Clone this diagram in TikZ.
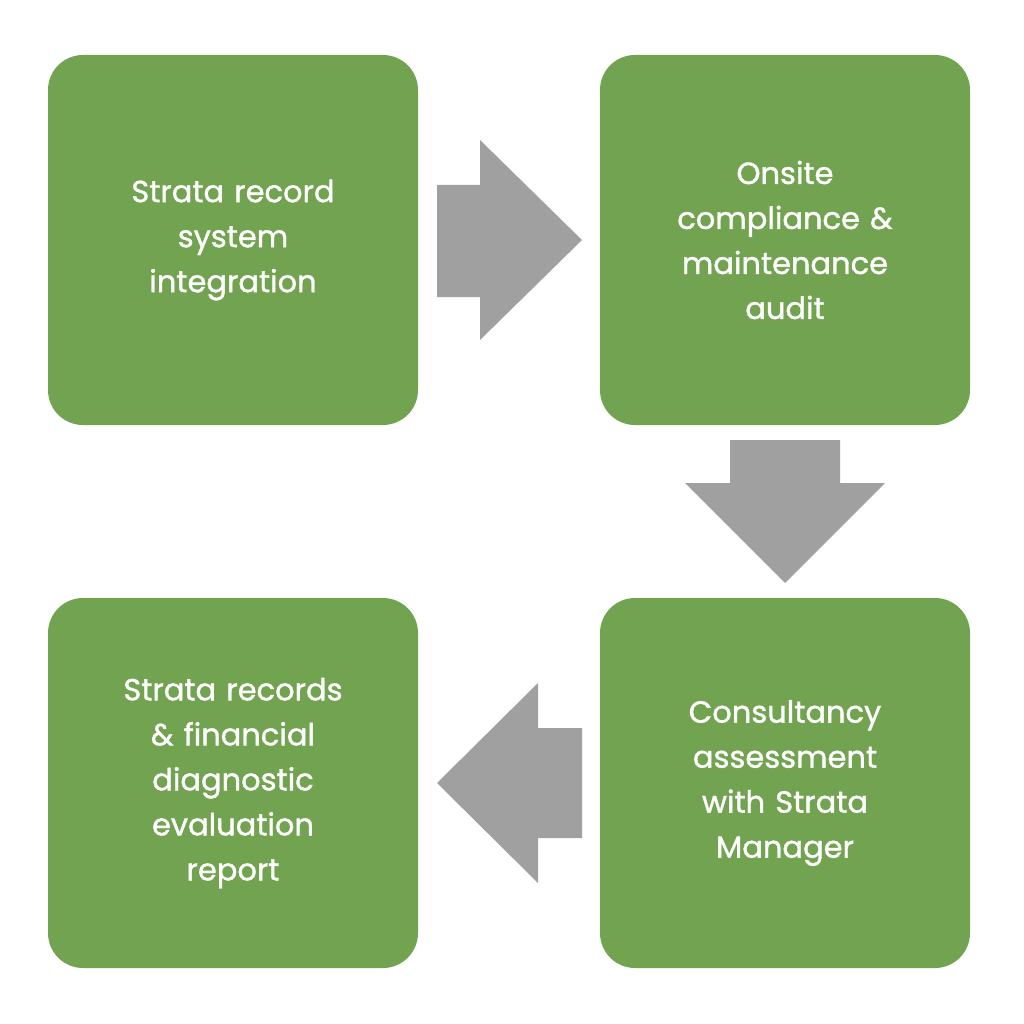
\documentclass[tikz,border=0pt]{standalone}
\usepackage{fontspec}
\setmainfont{Poppins}[FakeBold=1.2]
\definecolor{boxgreen}{HTML}{72A350}
\definecolor{arrowgray}{HTML}{A0A0A0}
\begin{document}
\begin{tikzpicture}[x=1pt,y=-1pt,
  box/.style={fill=boxgreen,rounded corners=35pt,minimum width=370pt,minimum height=370pt,text=white,align=center,font=\fontsize{30.5}{45}\selectfont,text width=330pt},
  garrow/.style={fill=arrowgray}]
\useasboundingbox (0,0) rectangle (1024,1024);
\node[box] (a) at (233,240) {Strata record\\system\\integration};
\node[box] (b) at (785,240) {Onsite\\compliance \&\\maintenance\\audit};
\node[box] (c) at (785,783) {Consultancy\\assessment\\with Strata\\Manager};
\node[box] (d) at (233,783) {Strata records\\\& financial\\diagnostic\\evaluation\\report};
\fill[garrow] (437,185) -- (480,185) -- (480,140) -- (582,240) -- (480,340) -- (480,297) -- (437,297) -- cycle;
\fill[garrow] (730,440) -- (840,440) -- (840,483) -- (885,483) -- (785,583) -- (685,483) -- (730,483) -- cycle;
\fill[garrow] (582,728) -- (538,728) -- (538,683) -- (437,783) -- (538,883) -- (538,838) -- (582,838) -- cycle;
\end{tikzpicture}
\end{document}
